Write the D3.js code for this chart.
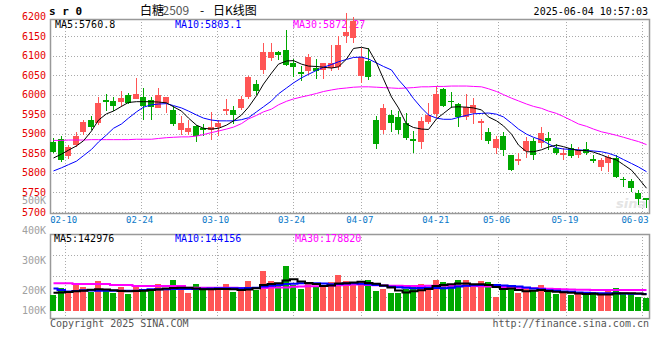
<!DOCTYPE html>
<html><head><meta charset="utf-8">
<script src="https://cdn.jsdelivr.net/npm/d3@7"></script>
<style>body{margin:0;background:#fff}svg{display:block}</style>
</head><body><svg id="c" width="660" height="360"></svg>
<script>
const dates = ["02-06","02-07","02-10","02-11","02-12","02-13","02-14","02-17","02-18","02-19","02-20","02-21","02-24","02-25","02-26","02-27","02-28",
"03-03","03-04","03-05","03-06","03-07","03-10","03-11","03-12","03-13","03-14","03-17","03-18","03-19","03-20","03-21","03-24","03-25","03-26","03-27","03-28","03-31",
"04-01","04-02","04-03","04-07","04-08","04-09","04-10","04-11","04-14","04-15","04-16","04-17","04-18","04-21","04-22","04-23","04-24","04-25","04-28","04-29","04-30",
"05-06","05-07","05-08","05-09","05-12","05-13","05-14","05-15","05-16","05-19","05-20","05-21","05-22","05-23","05-26","05-27","05-28","05-29","05-30",
"06-03","06-04"];
const labelDates = ["02-10","02-24","03-10","03-24","04-07","04-21","05-06","05-19","06-03"];

const open = [5880,5887,5843,5871,5905,5935,5927,5986,5984,5982,
5999,5989,5993,5986,5967,5978,5961,5910,5905,5920,
5914,5910,5918,5959,5961,5965,5993,6027,6062,6093,
6109,6114,6082,6059,6061,6067,6063,6068,6071,6150,
6145,6048,6086,5935,5910,5948,5943,5928,5887,5880,
5931,5950,6014,5985,5976,5942,5952,5928,5905,5864,
5895,5846,5830,5857,5882,5876,5888,5863,5845,5863,
5845,5860,5835,5814,5825,5837,5784,5778,5749,5735];
const high = [5889,5893,5870,5905,5934,5945,5993,6002,5993,6010,
6003,6043,6017,5993,6017,5995,5970,5946,5935,5922,
5925,5955,5936,5988,5971,5997,6048,6037,6133,6133,
6112,6164,6090,6072,6103,6092,6082,6127,6149,6208,
6199,6119,6119,5945,5975,5960,5958,5953,5908,5943,
5979,6022,6017,6008,5979,6002,5992,5937,5914,5895,
5905,5846,5850,5892,5888,5918,5905,5875,5863,5875,
5867,5880,5846,5837,5846,5846,5790,5784,5756,5737];
const low = [5851,5828,5835,5866,5897,5910,5923,5957,5957,5969,
5975,5988,5936,5936,5965,5954,5920,5897,5897,5880,
5894,5884,5893,5948,5926,5961,5990,5999,6053,6085,
6088,6073,6046,6036,6050,6041,6040,6060,6062,6131,
6131,6031,6038,5862,5900,5905,5900,5884,5850,5862,
5926,5940,5969,5966,5917,5935,5926,5884,5875,5848,
5843,5805,5820,5837,5832,5863,5858,5845,5832,5838,
5837,5846,5825,5805,5801,5788,5763,5750,5718,5710];
const close = [5854,5833,5865,5894,5931,5918,5979,5981,5971,5992,
5978,6002,5971,5969,5999,5993,5925,5928,5914,5894,
5910,5917,5928,5963,5948,5988,6046,6010,6110,6109,
6101,6076,6070,6053,6097,6061,6080,6081,6127,6159,
6188,6096,6044,5875,5966,5928,5910,5890,5882,5933,
5948,6002,5971,5983,5942,5969,5974,5932,5882,5887,
5858,5807,5835,5882,5846,5903,5882,5850,5850,5843,
5858,5852,5830,5833,5840,5790,5781,5762,5733,5731];

const ma5 = [5838,5848,5858,5869,5882,5907,5935,5951,5958,5970,
5980,5982,5982,5982,5981,5979,5969,5958,5940,5922,
5914,5912,5914,5922,5933,5948,5968,5997,6027,6055,
6078,6086,6087,6078,6073,6072,6070,6068,6071,6091,
6118,6121,6117,6081,6040,5994,5966,5925,5916,5912,
5911,5938,5952,5968,5969,5968,5966,5961,5943,5933,
5920,5899,5871,5854,5854,5859,5866,5871,5867,5861,
5857,5857,5853,5846,5839,5833,5821,5807,5786,5760.8];
const ma10 = [5805,5813,5821,5830,5844,5860,5879,5897,5914,5925,
5940,5956,5968,5974,5976,5977,5972,5966,5958,5948,
5940,5935,5933,5933,5933,5936,5941,5956,5969,5984,
6002,6017,6030,6043,6052,6062,6070,6077,6084,6090,
6095,6096,6091,6081,6072,6063,6038,6015,5990,5966,
5948,5940,5937,5937,5942,5947,5951,5952,5953,5950,
5943,5927,5912,5899,5891,5884,5874,5864,5861,5860,
5859,5857,5856,5854,5850,5843,5834,5824,5815,5803.1];
const ma30 = [5883,5883,5884,5884,5884,5885,5885,5885,5885,5885,
5885,5886,5886,5886,5888,5890,5891,5892,5892,5894,
5898,5903,5907,5912,5917,5926,5938,5947,5956,5963,
5974,5983,5989,5994,5998,6003,6008,6012,6015,6017,
6019,6020,6020,6019,6018,6017,6016,6017,6018,6020,
6020,6021,6021,6022,6022,6022,6021,6020,6015,6008,
6000,5991,5984,5976,5970,5965,5958,5952,5944,5934,
5925,5919,5912,5905,5901,5896,5891,5885,5880,5872.27];

const volume = [136000,193000,170000,227000,204000,164000,255000,179000,156000,204000,
145000,204000,179000,187000,230000,187000,264000,204000,153000,230000,
187000,204000,187000,230000,162000,187000,255000,179000,340000,255000,
213000,383000,221000,187000,238000,213000,204000,247000,306000,255000,
235000,255000,264000,170000,187000,153000,153000,187000,204000,230000,
187000,264000,247000,221000,264000,264000,204000,255000,247000,119000,
187000,221000,153000,187000,170000,221000,162000,145000,153000,136000,
153000,145000,162000,136000,179000,196000,153000,145000,119000,111000];
const volMa5 = [156000,157000,162000,168000,173000,181000,184000,183000,176000,170000,
167000,170000,173000,179000,183000,191000,196000,198000,198000,191000,
184000,185000,187000,187000,185000,179000,183000,193000,221000,230000,
235000,259000,269000,251000,238000,230000,213000,217000,234000,235000,
242000,248000,238000,231000,217000,200000,174000,157000,167000,176000,
187000,213000,221000,227000,234000,234000,227000,227000,221000,204000,
187000,191000,179000,167000,173000,178000,170000,164000,159000,156000,
149000,145000,147000,140000,140000,149000,150000,150000,149000,142976];
const volMa10 = [191000,179000,166000,170000,176000,174000,173000,173000,173000,173000,
172000,172000,179000,184000,184000,185000,187000,187000,187000,187000,
189000,191000,193000,193000,193000,194000,196000,198000,208000,214000,
221000,230000,231000,235000,235000,235000,234000,228000,230000,234000,
235000,231000,228000,221000,214000,207000,201000,197000,193000,196000,
198000,196000,193000,198000,208000,214000,219000,221000,221000,221000,
217000,213000,208000,200000,191000,184000,177000,172000,166000,163000,
157000,155000,151000,150000,150000,150000,149000,147000,146000,144156];
const volMa30 = [235500,235500,235500,229500,229500,229500,229500,229500,221000,221000,
221000,212500,212500,212500,212500,212500,212500,212500,198000,198000,
198000,198000,198000,198000,198000,195500,195500,195500,195500,200000,
200000,200000,206500,208000,210000,211000,212500,215000,218500,221000,
225000,225000,221000,219000,217000,215000,214000,212500,212500,212500,
214000,215000,215000,215000,214000,212500,212500,211000,208000,206500,
204000,201500,198000,195500,193000,191000,189500,187000,184500,183000,
181000,180000,178500,178500,177500,177500,177500,178000,178500,178820];

const priceTicks = [6200,6150,6100,6050,6000,5950,5900,5850,5800,5750,5700];
const volTicks = [500000,400000,300000,200000,100000];
const volTickText = ["500K","400K","300K","200K","100K"];
const priceLegend = [{t:"MA5:5760.8",c:"#000",x:55},{t:"MA10:5803.1",c:"#0000ff",x:175},{t:"MA30:5872.27",c:"#ff00ff",x:293}];
const volLegend = [{t:"MA5:142976",c:"#000",x:54},{t:"MA10:144156",c:"#0000ff",x:175},{t:"MA30:178820",c:"#ff00ff",x:295}];

const svg = d3.select('#c');
const MONO = '"DejaVu Sans Mono","Liberation Mono",monospace';
const CJK = '"Noto Sans CJK SC","Noto Sans",sans-serif';
const L = 50, R = 649, PT = 19, PB = 213, VT = 234, VB = 318;
const RED = '#ff5555', GREEN = '#00a800', GRID = '#aaaaaa', BORDER = '#999999';

const x = d3.scaleBand().domain(dates).range([50, 648.5]).paddingInner(0.2).paddingOuter(0);
const xg = d3.scalePoint().domain(dates).range([50, 650]);
const y = d3.scaleLinear().domain([5700, 6200]).range([212, 16.4]);
const yv = d3.scaleLinear().domain([0, 654500]).range([311, 234]);
const yvLab = d3.scaleLinear().domain([100000, 200000, 500000]).range([310, 290.5, 200]);

const bx = i => Math.round(x(dates[i]));
const cx = i => bx(i) + 3.5;

// grid
const g = svg.append('g').attr('stroke', GRID).attr('stroke-dasharray', '1,2').attr('shape-rendering', 'crispEdges');
priceTicks.filter(t => y(t) > PT + 1).forEach(t => {
  const yy = Math.round(y(t)) + 0.5;
  g.append('line').attr('x1', L).attr('x2', R).attr('y1', yy).attr('y2', yy);
});
[1, 2, 3].forEach(k => {
  const yy = Math.round(VT + k * (VB - VT) / 4) + 0.5;
  g.append('line').attr('x1', L).attr('x2', R).attr('y1', yy).attr('y2', yy);
});
labelDates.forEach(d => {
  const xx = Math.round(xg(d)) + 0.5;
  g.append('line').attr('x1', xx).attr('x2', xx).attr('y1', PT).attr('y2', PB);
  g.append('line').attr('x1', xx).attr('x2', xx).attr('y1', VT).attr('y2', VB);
});

// borders
svg.append('rect').attr('x', L + 0.5).attr('y', PT + 0.5).attr('width', R - L).attr('height', PB - PT)
  .attr('fill', 'none').attr('stroke', BORDER).attr('stroke-width', 1.5);
svg.append('rect').attr('x', L + 0.5).attr('y', VT + 0.5).attr('width', R - L).attr('height', VB - VT)
  .attr('fill', 'none').attr('stroke', BORDER).attr('stroke-width', 1.5);

// axis labels
svg.append('g').selectAll('text').data(priceTicks).join('text')
  .attr('x', 46).attr('y', d => y(d) + 3.6).attr('text-anchor', 'end')
  .attr('font-family', MONO).attr('font-size', 10).attr('fill', '#e60000').text(d => d);
svg.append('g').selectAll('text').data(volTicks).join('text')
  .attr('x', 46).attr('y', d => yvLab(d) + 3.6).attr('text-anchor', 'end')
  .attr('font-family', MONO).attr('font-size', 10).attr('fill', '#a0a0a0').text((d, i) => volTickText[i]);
svg.append('g').selectAll('text').data(labelDates).join('text')
  .attr('x', d => Math.min(xg(d) - 1.5, R - 14)).attr('y', 223.3).attr('text-anchor', 'middle')
  .attr('font-family', MONO).attr('font-size', 9).attr('fill', '#0a78c8').text(d => d);

// legends
svg.append('g').selectAll('text').data(priceLegend).join('text')
  .attr('x', d => d.x).attr('y', 27.5).attr('font-family', MONO).attr('font-size', 10)
  .attr('fill', d => d.c).text(d => d.t);
svg.append('g').selectAll('text').data(volLegend).join('text')
  .attr('x', d => d.x).attr('y', 242).attr('font-family', MONO).attr('font-size', 10)
  .attr('fill', d => d.c).text(d => d.t);

// watermark
svg.append('text').attr('x', 616).attr('y', 208).attr('font-family', 'DejaVu Sans').attr('font-size', 13)
  .attr('font-weight', 'bold').attr('font-style', 'italic').attr('fill', '#e4e4e4').text('sina');

// candles
const idx = d3.range(dates.length);
const cg = svg.append('g').attr('shape-rendering', 'crispEdges');
idx.forEach(i => {
  const up = close[i] >= open[i];
  const col = up ? RED : GREEN;
  const top = Math.round(y(Math.max(open[i], close[i])));
  const bot = Math.round(y(Math.min(open[i], close[i])));
  cg.append('rect').attr('x', bx(i) + 3).attr('width', 1)
    .attr('y', Math.round(y(high[i]))).attr('height', Math.max(1, Math.round(y(low[i])) - Math.round(y(high[i]))))
    .attr('fill', col);
  cg.append('rect').attr('x', bx(i)).attr('width', 6)
    .attr('y', top).attr('height', Math.max(1, bot - top)).attr('fill', col);
  cg.append('rect').attr('x', bx(i)).attr('width', 6)
    .attr('y', Math.round(yv(volume[i]))).attr('height', 311 - Math.round(yv(volume[i]))).attr('fill', col);
});

// price MA lines
const pline = arr => d3.line().x((d, i) => cx(i)).y(d => y(d))(arr);
[[ma30, '#ff00ff'], [ma10, '#0000ff'], [ma5, '#000000']].forEach(([arr, c]) => {
  svg.append('path').attr('d', pline(arr)).attr('fill', 'none').attr('stroke', c).attr('stroke-width', 1);
});
// volume MA lines
const vline = arr => d3.line().x((d, i) => cx(i)).y(d => yv(d)).curve(d3.curveStep)(arr);
[[volMa30, '#ff00ff'], [volMa10, '#0000ff'], [volMa5, '#000000']].forEach(([arr, c]) => {
  svg.append('path').attr('d', vline(arr)).attr('fill', 'none').attr('stroke', c).attr('stroke-width', 2);
});

// header
svg.append('text').attr('x', 49).attr('y', 15).attr('font-family', MONO).attr('font-size', 11)
  .attr('font-weight', 'bold').attr('fill', '#000').text('s r 0');
const title = [{t:'白糖', x:140, c:'#000'}, {t:'2509', x:162.5, c:'#555'}, {t:'-', x:200, c:'#000'}, {t:'日K线图', x:213, c:'#000'}];
svg.append('g').selectAll('text').data(title).join('text')
  .attr('x', d => d.x).attr('y', 15).attr('font-family', CJK).attr('font-size', 12)
  .attr('fill', d => d.c).text(d => d.t);
svg.append('text').attr('x', 648).attr('y', 15).attr('text-anchor', 'end').attr('font-family', MONO)
  .attr('font-size', 10).attr('fill', '#000').text('2025-06-04 10:57:03');

// footer
svg.append('text').attr('x', 50).attr('y', 327).attr('font-family', MONO).attr('font-size', 10)
  .attr('fill', '#555').text('Copyright 2025 SINA.COM');
svg.append('text').attr('x', 649).attr('y', 327).attr('text-anchor', 'end').attr('font-family', MONO)
  .attr('font-size', 10).attr('fill', '#555').text('http://finance.sina.com.cn');
</script></body></html>
